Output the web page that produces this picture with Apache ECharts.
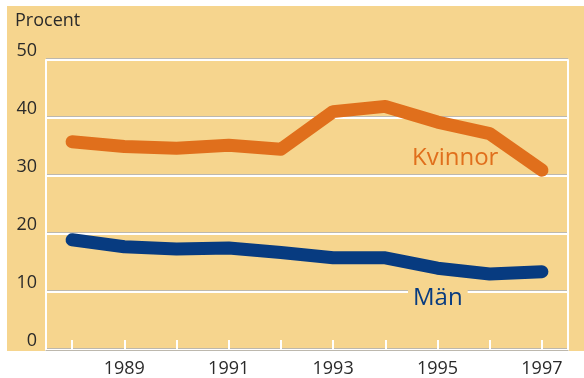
<!DOCTYPE html>
<html>
<head>
<meta charset="utf-8">
<script src="https://cdn.jsdelivr.net/npm/echarts@6/dist/echarts.min.js"></script>
<style>
  html, body { margin: 0; padding: 0; background: #ffffff; }
  #chart { width: 584px; height: 378px; }
</style>
</head>
<body>
<div id="chart"></div>
<script>
// Share of smokers (percent) by year, women and men
const years = ['1988', '1989', '1990', '1991', '1992', '1993', '1994', '1995', '1996', '1997'];
const kvinnor = [35.9, 35.1, 34.8, 35.3, 34.6, 41.1, 42.0, 39.3, 37.3, 31.0];
const man = [19.0, 17.8, 17.4, 17.6, 16.8, 15.9, 15.9, 14.1, 13.1, 13.5];
const yTicks = { min: 0, max: 50, interval: 10 };

const panel = '#f6d58e';
const orange = '#e06f1c';
const blue = '#073b80';
const font = '"Open Sans", "Noto Sans", sans-serif';

const chart = echarts.init(document.getElementById('chart'), null, { renderer: 'canvas' });

chart.setOption({
  backgroundColor: '#ffffff',
  animation: false,
  grid: { left: 46, right: 16, top: 60, bottom: 27 },
  graphic: [
    {
      type: 'rect', z: -10, silent: true,
      shape: { x: 7, y: 6, width: 577, height: 345 },
      style: { fill: panel }
    },
    {
      type: 'text', left: 15, top: 12,
      style: { text: 'Procent', font: '18px ' + font, fill: '#2a2a2a' }
    },
    {
      type: 'text', x: 412, y: 158, z: 10,
      style: {
        text: 'Kvinnor', font: '24px ' + font, fill: orange,
        verticalAlign: 'middle', align: 'left'
      }
    },
    {
      type: 'text', x: 408, y: 298, z: 10,
      style: {
        text: 'Män', font: '24px ' + font, fill: blue,
        verticalAlign: 'middle', align: 'left',
        backgroundColor: panel, padding: [0, 5, 0, 5]
      }
    }
  ],
  xAxis: {
    type: 'category',
    data: years,
    boundaryGap: true,
    axisLine: { show: true, lineStyle: { color: '#bdb8ad', width: 1 } },
    axisTick: {
      show: true, inside: true, length: 10, alignWithLabel: true, interval: 0,
      lineStyle: { color: '#ffffff', width: 2 }
    },
    axisLabel: {
      interval: (i) => i % 2 === 1,
      margin: 10,
      fontFamily: font, fontSize: 18, color: '#2a2a2a'
    },
    splitLine: { show: false }
  },
  yAxis: [
    {
      type: 'value',
      min: yTicks.min, max: yTicks.max, interval: yTicks.interval,
      axisLine: { show: true, lineStyle: { color: '#ffffff', width: 2 } },
      axisTick: { show: false },
      axisLabel: {
        margin: 9,
        fontFamily: font, fontSize: 18, color: '#2a2a2a',
        verticalAlign: 'bottom', lineHeight: 18
      },
      splitLine: {
        show: true,
        lineStyle: {
          color: '#ffffff', width: 2,
          shadowColor: '#bdb8ad', shadowOffsetY: -1, shadowBlur: 0
        }
      }
    },
    {
      type: 'value', position: 'right',
      min: yTicks.min, max: yTicks.max, interval: yTicks.interval,
      axisLine: { show: true, lineStyle: { color: '#ffffff', width: 2 } },
      axisTick: { show: false },
      axisLabel: { show: false },
      splitLine: { show: false }
    }
  ],
  series: [
    {
      name: 'Kvinnor', type: 'line', data: kvinnor,
      symbol: 'none', z: 5,
      lineStyle: { color: orange, width: 13, cap: 'round', join: 'round' }
    },
    {
      name: 'Män', type: 'line', data: man,
      symbol: 'none', z: 5,
      lineStyle: { color: blue, width: 13, cap: 'round', join: 'round' }
    }
  ]
});
</script>
</body>
</html>
